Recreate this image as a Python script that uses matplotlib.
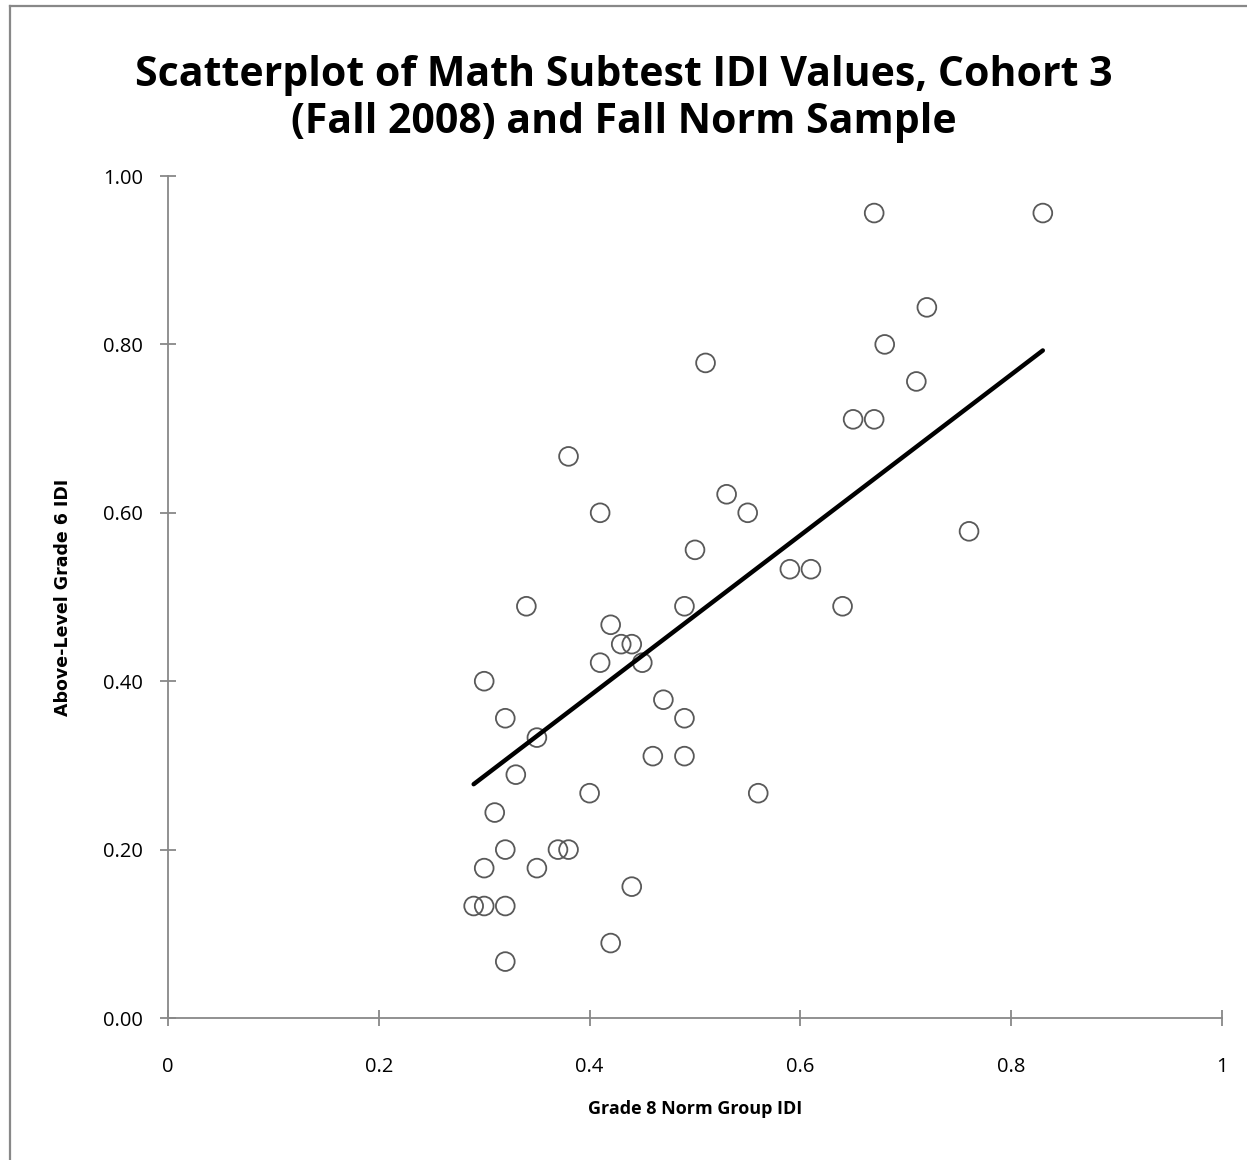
import numpy as np
import matplotlib
matplotlib.use("Agg")
import matplotlib.pyplot as plt
from matplotlib.lines import Line2D

# Data
grade8_norm_idi = [0.34, 0.42, 0.43, 0.44, 0.41, 0.45, 0.49, 0.30, 0.47, 0.32,
                   0.49, 0.35, 0.46, 0.49, 0.33, 0.40, 0.31, 0.32, 0.37, 0.38,
                   0.30, 0.35, 0.44, 0.29, 0.30, 0.32, 0.42, 0.32, 0.67, 0.83,
                   0.72, 0.68, 0.51, 0.71, 0.65, 0.67, 0.53, 0.41, 0.55, 0.76,
                   0.50, 0.59, 0.61, 0.64, 0.38, 0.56]
grade6_above_idi = [0.489, 0.467, 0.444, 0.444, 0.422, 0.422, 0.489, 0.400, 0.378, 0.356,
                    0.356, 0.333, 0.311, 0.311, 0.289, 0.267, 0.244, 0.200, 0.200, 0.200,
                    0.178, 0.178, 0.156, 0.133, 0.133, 0.133, 0.089, 0.067, 0.956, 0.956,
                    0.844, 0.800, 0.778, 0.756, 0.711, 0.711, 0.622, 0.600, 0.600, 0.578,
                    0.556, 0.533, 0.533, 0.489, 0.667, 0.267]
# trendline
trend_slope = 0.954
trend_intercept = 0.001
x_ticks = [0, 0.2, 0.4, 0.6, 0.8, 1]
x_tick_labels = ["0", "0.2", "0.4", "0.6", "0.8", "1"]
y_ticks = [0.0, 0.2, 0.4, 0.6, 0.8, 1.0]
y_tick_labels = ["0.00", "0.20", "0.40", "0.60", "0.80", "1.00"]

W, H = 1247, 1160
fig = plt.figure(figsize=(W / 100, H / 100), dpi=100)
fig.patch.set_facecolor("white")

ax = fig.add_axes([168 / W, 1 - 1018 / H, (1222 - 168) / W, (1018 - 176) / H])
ax.set_xlim(0, 1)
ax.set_ylim(0, 1)

x = np.array(grade8_norm_idi)
y = np.array(grade6_above_idi)
ax.scatter(x, y, s=13.5 ** 2, facecolors="none", edgecolors="#595959",
           linewidths=1.3, zorder=3, clip_on=False)

xs = np.array([x.min(), x.max()])
ax.plot(xs, trend_slope * xs + trend_intercept, color="black", lw=3.2,
        solid_capstyle="round", zorder=4)

for s in ["top", "right"]:
    ax.spines[s].set_visible(False)
for s in ["left", "bottom"]:
    ax.spines[s].set_color("#888888")
    ax.spines[s].set_linewidth(1.3)

ax.set_xticks(x_ticks)
ax.set_xticklabels(x_tick_labels)
ax.set_yticks(y_ticks)
ax.set_yticklabels(y_tick_labels)
ax.tick_params(axis="both", direction="inout", length=12, width=1.3,
               color="#888888", labelsize=14.5, labelcolor="black")
ax.tick_params(axis="x", pad=22)
ax.tick_params(axis="y", pad=12)
for lab in ax.get_xticklabels() + ax.get_yticklabels():
    lab.set_fontfamily("Open Sans")

ax.set_xlabel("Grade 8 Norm Group IDI", fontsize=13, fontweight="bold",
              fontfamily="Open Sans", labelpad=17)
ax.set_ylabel("Above-Level Grade 6 IDI", fontsize=12.5, fontweight="bold",
              fontfamily="DejaVu Sans", labelpad=22)

fig.text(0.5, 1 - 99 / H, "Scatterplot of Math Subtest IDI Values, Cohort 3\n(Fall 2008) and Fall Norm Sample",
         ha="center", va="center", fontsize=29.5, fontweight="bold",
         fontfamily="Open Sans", linespacing=1.2)

# outer chart border (left and top)
fig.add_artist(Line2D([9.5 / W, 9.5 / W], [0, 1 - 6 / H], transform=fig.transFigure,
                      color="#888888", lw=1.6))
fig.add_artist(Line2D([9.5 / W, 1], [1 - 6 / H, 1 - 6 / H], transform=fig.transFigure,
                      color="#888888", lw=1.6))

fig.savefig("out.png", dpi=100, facecolor="white")
